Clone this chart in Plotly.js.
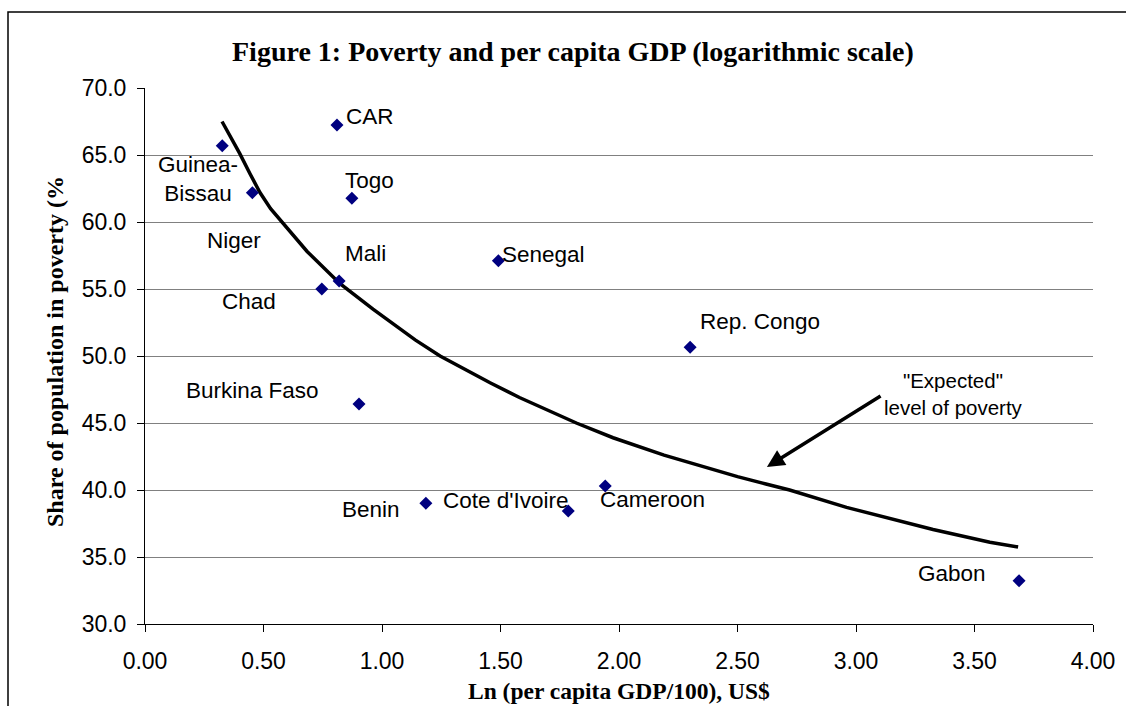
<!DOCTYPE html>
<html>
<head>
<meta charset="utf-8">
<script src="https://cdn.plot.ly/plotly-3.0.1.min.js"></script>
<style>
html,body{margin:0;padding:0;background:#fff;}
#chart{width:1126px;height:706px;}
</style>
</head>
<body>
<div id="chart"></div>
<script>
// Country observations
const countries = ["CAR","Guinea-<br>Bissau","Niger","Togo","Mali","Chad","Senegal","Rep. Congo","Burkina Faso","Benin","Cote d'Ivoire","Cameroon","Gabon"];
const lnGdp    = [0.810, 0.326, 0.453, 0.873, 0.819, 0.746, 1.491, 2.300, 0.903, 1.185, 1.786, 1.942, 3.688];
const poverty  = [67.24, 65.69, 62.19, 61.77, 55.60, 55.00, 57.11, 50.65, 46.42, 39.01, 38.43, 40.30, 33.23];

// "Expected" level of poverty curve
const curveX = [0.325,0.36,0.40,0.443,0.485,0.53,0.582,0.684,0.823,0.962,1.14,1.245,1.456,1.58,1.82,1.975,2.19,2.34,2.50,2.62,2.72,2.96,3.156,3.325,3.565,3.684];
const curveY = [67.5,66.4,65.1,63.6,62.2,61.0,59.9,57.8,55.4,53.5,51.2,50.0,48.0,46.9,45.0,43.9,42.6,41.8,41.0,40.45,40.0,38.7,37.8,37.05,36.1,35.75];

// Axis ticks
const xTicks = [0,0.5,1,1.5,2,2.5,3,3.5,4];
const xTickText = ["0.00","0.50","1.00","1.50","2.00","2.50","3.00","3.50","4.00"];
const yTicks = [30,35,40,45,50,55,60,65,70];
const yTickText = ["30.0","35.0","40.0","45.0","50.0","55.0","60.0","65.0","70.0"];

// Label pixel offsets relative to each point (style/position only)
const labelShift = {
  "CAR":[33,8], "Guinea-<br>Bissau":[-24,-33], "Niger":[-18,-48], "Togo":[18,18],
  "Mali":[26,27], "Chad":[-73,-12], "Senegal":[45,6], "Rep. Congo":[70,26],
  "Burkina Faso":[-107,13], "Benin":[-55,-6], "Cote d'Ivoire":[-62,11],
  "Cameroon":[47,-14], "Gabon":[-67,7]
};

const sans = "Liberation Sans, Arial, sans-serif";
const serif = "Liberation Serif, Times New Roman, serif";

const annotations = countries.map((c,i)=>({
  x: lnGdp[i], y: poverty[i], xref:'x', yref:'y', text:c, showarrow:false,
  xshift: labelShift[c][0], yshift: labelShift[c][1],
  font:{family:sans,size:22.5,color:'#000'}, align:'center'
}));

annotations.push({
  x: 2.624, y: 41.72, ax: 3.11, ay: 47.09, axref:'x', ayref:'y', xref:'x', yref:'y',
  text:'', showarrow:true, arrowhead:2, arrowsize:1, arrowwidth:3.5, arrowcolor:'#000'
});
annotations.push({
  x: 3.41, y: 47.2, xref:'x', yref:'y', text:'"Expected"<br>level of poverty', showarrow:false,
  font:{family:sans,size:20.5,color:'#000'}, align:'center'
});
annotations.push({
  x: 0.4515, y: (624-52)/536, xref:'paper', yref:'paper', text:'<b>Figure 1: Poverty and per capita GDP (logarithmic scale)</b>',
  showarrow:false, xanchor:'center', yanchor:'middle',
  font:{family:serif,size:28,color:'#000'}
});
annotations.push({
  x: (618.5-145)/948, y: (624-691)/536, xref:'paper', yref:'paper', text:'<b>Ln (per capita GDP/100), US$</b>',
  showarrow:false, xanchor:'center', yanchor:'middle',
  font:{family:serif,size:23.5,color:'#000'}
});
annotations.push({
  x: (55-145)/948, y: (624-352)/536, xref:'paper', yref:'paper', text:'<b>Share of population in poverty (%</b>',
  showarrow:false, xanchor:'center', yanchor:'middle', textangle:-90,
  font:{family:serif,size:24,color:'#000'}
});

const traces = [
  {x: curveX, y: curveY, type:'scatter', mode:'lines', line:{color:'#000',width:3.5}, hoverinfo:'skip'},
  {x: lnGdp, y: poverty, type:'scatter', mode:'markers', marker:{symbol:'diamond',size:10,color:'#000080'}, text: countries}
];

const layout = {
  width:1126, height:706,
  margin:{l:145, r:33, t:88, b:82},
  paper_bgcolor:'#fff', plot_bgcolor:'#fff',
  showlegend:false,
  xaxis:{range:[0,4], tickvals:xTicks, ticktext:xTickText, showgrid:false, zeroline:false,
    showline:true, linecolor:'#000', linewidth:1, ticks:'outside', ticklen:7, tickcolor:'#000',
    tickfont:{family:sans,size:23,color:'#000'}, ticklabelstandoff:9, fixedrange:true},
  yaxis:{range:[30,70], tickvals:yTicks, ticktext:yTickText, showgrid:true, gridcolor:'#808080', gridwidth:1,
    zeroline:false, showline:true, linecolor:'#000', linewidth:1, ticks:'outside', ticklen:7, tickcolor:'#000',
    tickfont:{family:sans,size:23,color:'#000'}, ticklabelstandoff:6, fixedrange:true},
  annotations: annotations,
  shapes:[{type:'rect', xref:'paper', yref:'paper', x0:(8-145)/948, x1:1.2, y0:-0.3, y1:(624-12)/536,
    line:{color:'#000',width:1.5}, fillcolor:'rgba(0,0,0,0)', layer:'below'}]
};

Plotly.newPlot('chart', traces, layout, {displayModeBar:false, staticPlot:true});
</script>
</body>
</html>
